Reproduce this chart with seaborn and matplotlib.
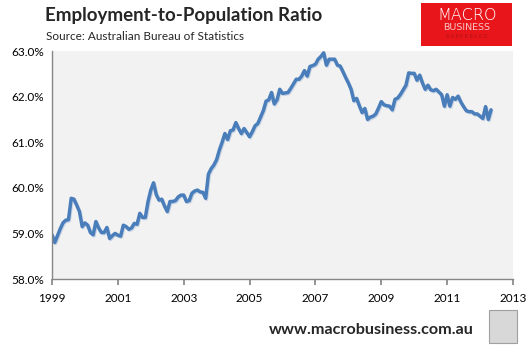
import numpy as np
import pandas as pd
import matplotlib
matplotlib.use("Agg")
import matplotlib.pyplot as plt
import matplotlib.patheffects as pe
from matplotlib.patches import Rectangle
import seaborn as sns

# Employment-to-population ratio (%), monthly, Jan 1999 - May 2012
start_year = 1999
ratio_1999 = [58.97, 58.80, 58.95, 59.10, 59.23, 59.29, 59.30, 59.77, 59.75, 59.62, 59.48, 59.15]
ratio_2000 = [59.23, 59.18, 59.02, 58.97, 59.26, 59.12, 59.02, 59.02, 59.13, 58.89, 58.95, 59.00]
ratio_2001 = [58.96, 58.94, 59.18, 59.15, 59.09, 59.12, 59.22, 59.20, 59.44, 59.35, 59.35, 59.70]
ratio_2002 = [59.95, 60.11, 59.85, 59.73, 59.75, 59.60, 59.48, 59.70, 59.70, 59.72, 59.80, 59.84]
ratio_2003 = [59.84, 59.70, 59.72, 59.88, 59.93, 59.95, 59.91, 59.90, 59.77, 60.30, 60.42, 60.50]
ratio_2004 = [60.62, 60.83, 61.00, 61.19, 61.06, 61.25, 61.27, 61.43, 61.30, 61.19, 61.30, 61.21]
ratio_2005 = [61.12, 61.23, 61.36, 61.41, 61.55, 61.69, 61.90, 61.93, 62.09, 61.84, 61.93, 62.16]
ratio_2006 = [62.07, 62.08, 62.09, 62.18, 62.28, 62.38, 62.38, 62.45, 62.57, 62.45, 62.66, 62.68]
ratio_2007 = [62.71, 62.82, 62.88, 62.96, 62.69, 62.82, 62.82, 62.82, 62.69, 62.67, 62.55, 62.42]
ratio_2008 = [62.30, 62.16, 61.91, 61.96, 61.80, 61.65, 61.74, 61.50, 61.55, 61.57, 61.62, 61.75]
ratio_2009 = [61.89, 61.82, 61.80, 61.79, 61.71, 61.94, 61.97, 62.05, 62.15, 62.25, 62.52, 62.51]
ratio_2010 = [62.51, 62.36, 62.47, 62.30, 62.16, 62.25, 62.15, 62.13, 62.16, 62.10, 62.04, 61.79]
ratio_2011 = [62.04, 61.79, 61.98, 61.94, 62.01, 61.88, 61.78, 61.69, 61.67, 61.67, 61.62, 61.62]
ratio_2012 = [61.57, 61.52, 61.78, 61.50, 61.71]

x_ticks = [1999, 2001, 2003, 2005, 2007, 2009, 2011, 2013]
y_ticks = [58.0, 59.0, 60.0, 61.0, 62.0, 63.0]

title = "Employment-to-Population Ratio"
subtitle = "Source: Australian Bureau of Statistics"
footer = "www.macrobusiness.com.au"

values = (ratio_1999 + ratio_2000 + ratio_2001 + ratio_2002 + ratio_2003 + ratio_2004
          + ratio_2005 + ratio_2006 + ratio_2007 + ratio_2008 + ratio_2009 + ratio_2010
          + ratio_2011 + ratio_2012)
df = pd.DataFrame({
    "year": [start_year + i / 12.0 for i in range(len(values))],
    "ratio": values,
})

sns.set_theme(style="white")
plt.rcParams["font.family"] = ["Lato", "DejaVu Sans"]

fig = plt.figure(figsize=(5.29, 3.5), dpi=100)
fig.patch.set_facecolor("white")
ax = fig.add_axes([52 / 529, 1 - 279 / 350, (513 - 52) / 529, (279 - 51) / 350])
ax.set_facecolor("#F2F2F2")

sns.lineplot(data=df, x="year", y="ratio", ax=ax, color="#4A7EBB", linewidth=2.5,
             path_effects=[pe.SimpleLineShadow(offset=(0.6, -0.8), shadow_color="#9DB5D6", alpha=0.5),
                           pe.Normal()])

ax.set_xlim(1999, 2013)
ax.set_ylim(58, 63)
ax.set_xticks(x_ticks)
ax.set_xticklabels([str(t) for t in x_ticks])
ax.set_yticks(y_ticks)
ax.set_yticklabels([f"{t:.1f}%" for t in y_ticks])
ax.set_xlabel("")
ax.set_ylabel("")
for s in ["top", "right"]:
    ax.spines[s].set_visible(False)
for s in ["left", "bottom"]:
    ax.spines[s].set_color("#868686")
    ax.spines[s].set_linewidth(1.0)
ax.tick_params(axis="x", direction="out", length=4, color="#868686", labelsize=8.5,
               labelcolor="black", pad=6, bottom=True)
ax.tick_params(axis="y", length=0, labelsize=8.5, labelcolor="black", pad=6, left=True)
ax.grid(False)

# Title and source
fig.text(45 / 529, 1 - 15 / 350, title, fontsize=13.5, fontweight="bold", va="center", ha="left")
fig.text(46 / 529, 1 - 36 / 350, subtitle, fontsize=8.5, va="center", ha="left")

# Logo block
fig.patches.append(Rectangle((421 / 529, 1 - 46 / 350), 91 / 529, 43 / 350,
                             transform=fig.transFigure, facecolor="#E8161B", edgecolor="none"))
fig.text(467 / 529, 1 - 16 / 350, "MACRO", color="white", fontsize=11.5, ha="center", va="center",
         family=["DejaVu Sans"], fontweight="light")
fig.text(467 / 529, 1 - 28 / 350, "BUSINESS", color="#F6C6C6", fontsize=6.8, ha="center", va="center",
         family=["DejaVu Sans"])
fig.text(467 / 529, 1 - 36 / 350, "S U P E R B L O G", color="#B01015", fontsize=3.5, ha="center",
         va="center", family=["DejaVu Sans"])

# Footer
fig.text(474 / 529, 1 - 330 / 350, footer, fontsize=11.6, fontweight="bold", ha="right", va="center")
fig.patches.append(Rectangle((489 / 529, 1 - 343 / 350), 28 / 529, 33 / 350,
                             transform=fig.transFigure, facecolor="#D8D8D8", edgecolor="#A0A0A0",
                             linewidth=0.8))

fig.savefig("out.png", dpi=100, facecolor="white")
